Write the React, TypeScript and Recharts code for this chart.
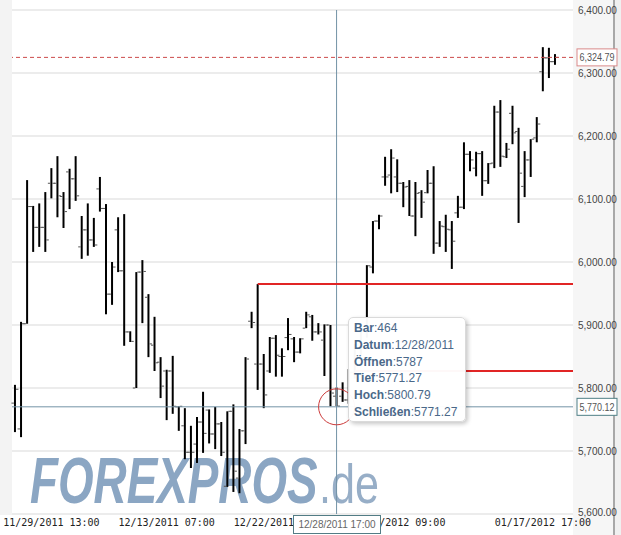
import React from 'react';
import { ComposedChart, Bar, XAxis, YAxis, CartesianGrid, ReferenceLine, ReferenceDot } from 'recharts';

// ---- data (one bar per 4h period, index = bar position) ----
const openPrices = [
  5776, 5735, 5902, 6088, 6055, 6055, 6125, 6125, 6104, 6143,
  6132, 6024, 6051, 6035, 6116, 6085, 5949, 6051, 5986, 5889,
  5800, 5984, 5944, 5868, 5841, 5827, 5827, 5770, 5740, 5698,
  5711, 5746, 5765, 5727, 5743, 5644, 5763, 5657, 5732, 5906,
  5838, 5838, 5827, 5879, 5850, 5880, 5878, 5857, 5895, 5913,
  5889, 5876, 5900, 5787, 5787, 5781, 5825, 5862, 5892, 5992,
  6065, 6135, 6138, 6135, 6125, 6120, 6073, 6110, 6110, 6125,
  6030, 6056, 6051, 6078, 6087, 6171, 6149, 6172, 6129, 6157,
  6238, 6167, 6236, 6207, 6120, 6162, 6197, 6302, 6324, 6318,
];
const highPrices = [
  5805, 5905, 6130, 6089, 6093, 6111, 6149, 6168, 6111, 6148,
  6168, 6073, 6093, 6070, 6135, 6092, 6000, 6071, 6076, 5890,
  5984, 6003, 5949, 5913, 5849, 5829, 5851, 5771, 5768, 5740,
  5754, 5794, 5766, 5770, 5746, 5763, 5774, 5735, 5849, 5921,
  5965, 5854, 5881, 5884, 5863, 5911, 5881, 5879, 5921, 5916,
  5903, 5901, 5900, 5800.79, 5809, 5830, 5870, 5895, 5995, 6065,
  6075, 6167, 6179, 6163, 6127, 6130, 6127, 6114, 6146, 6152,
  6065, 6075, 6065, 6105, 6190, 6176, 6175, 6176, 6157, 6248,
  6257, 6189, 6248, 6213, 6176, 6195, 6230, 6341, 6340, 6330,
];
const lowPrices = [
  5730, 5722, 5902, 6016, 6024, 6016, 6101, 6071, 6054, 6084,
  6097, 6005, 6010, 6024, 6080, 5917, 5932, 5984, 5867, 5873,
  5800, 5903, 5849, 5827, 5784, 5749, 5759, 5732, 5687, 5673,
  5681, 5697, 5712, 5703, 5692, 5643, 5635, 5633, 5711, 5895,
  5797, 5768, 5824, 5818, 5818, 5860, 5841, 5855, 5895, 5875,
  5885, 5819, 5771, 5771.27, 5778, 5775, 5815, 5850, 5880, 5982,
  6052, 6121, 6109, 6111, 6087, 6073, 6041, 6070, 6109, 6013,
  6024, 6016, 5989, 6070, 6084, 6144, 6136, 6105, 6124, 6149,
  6151, 6165, 6187, 6062, 6103, 6135, 6190, 6271, 6292, 6313,
];
const closePrices = [
  5798, 5902, 6088, 6055, 6055, 6035, 6125, 6105, 6080, 6132,
  6105, 6051, 6035, 6027, 6085, 5949, 5992, 5986, 5889, 5874,
  5984, 5985, 5870, 5840, 5803, 5827, 5771, 5771, 5698, 5698,
  5746, 5728, 5727, 5743, 5698, 5763, 5668, 5732, 5846, 5904,
  5838, 5789, 5879, 5852, 5850, 5885, 5857, 5878, 5916, 5889,
  5889, 5900, 5792, 5771.27, 5781, 5825, 5862, 5890, 5994, 6065,
  6073, 6135, 6165, 6125, 6119, 6073, 6109, 6095, 6125, 6030,
  6057, 6052, 6033, 6087, 6171, 6162, 6172, 6129, 6156, 6238,
  6168, 6179, 6205, 6141, 6162, 6195, 6219, 6324, 6318, 6324.79,
];

const xTickBars = [6, 25, 44, 63, 87];
const xTickLabels = ['11/29/2011 13:00', '12/13/2011 07:00', '12/22/2011 01:00', '01/05/2012 09:00', '01/17/2012 17:00'];
const yTickValues = [5600, 5700, 5800, 5900, 6000, 6100, 6200, 6300, 6400];

const lastPrice = 6324.79;
const cursorPrice = 5770.12;
const cursorBar = 53;
const cursorDateLabel = '12/28/2011 17:00';
const levelValues = [5965, 5827];
const levelStartBars = [40, 56];

const tooltipRows: [string, string][] = [
  ['Bar', '464'],
  ['Datum', '12/28/2011'],
  ['Öffnen', '5787'],
  ['Tief', '5771.27'],
  ['Hoch', '5800.79'],
  ['Schließen', '5771.27'],
];

const data = openPrices.map((o, i) => ({
  i,
  o,
  h: highPrices[i],
  l: lowPrices[i],
  c: closePrices[i],
  range: [lowPrices[i], highPrices[i]],
}));

const X_DOMAIN: [number, number] = [-0.4944, 91.966];

const fmt = (v: number) =>
  v.toLocaleString('en-US', { minimumFractionDigits: 2, maximumFractionDigits: 2 });

const OhlcShape = (props: any) => {
  const { x, y, width, height, payload } = props;
  if (x == null || y == null || !payload) return null;
  const cx = x + width / 2;
  const top = Math.min(y, y + height);
  const bot = Math.max(y, y + height);
  const span = payload.h - payload.l || 1;
  const yo = top + ((payload.h - payload.o) / span) * (bot - top);
  const yc = top + ((payload.h - payload.c) / span) * (bot - top);
  return (
    <g>
      <line x1={cx} x2={cx} y1={top} y2={bot} stroke="#000" strokeWidth={2} />
      <line x1={cx - 3.5} x2={cx - 1} y1={yo} y2={yo} stroke="#555" strokeWidth={1} />
      <line x1={cx + 1} x2={cx + 3.5} y1={yc} y2={yc} stroke="#555" strokeWidth={1} />
    </g>
  );
};

const YTick = (props: any) => {
  const { x, y, payload } = props;
  const lift = payload.value === yTickValues[0] ? -2 : 0;
  return (
    <text x={x + 5} y={y + lift} dy={3.5} fontSize={10} fill="#444" fontFamily="'Liberation Sans', Arial, sans-serif">
      {fmt(payload.value)}
    </text>
  );
};

const XTick = (props: any) => {
  const { x, y, payload } = props;
  const idx = xTickBars.indexOf(payload.value);
  return (
    <text x={x} y={y + 12} textAnchor="middle" fontSize={10} fill="#222" fontFamily="'DejaVu Sans Mono', monospace">
      {idx >= 0 ? xTickLabels[idx] : ''}
    </text>
  );
};

const PriceTag = ({ viewBox, text, border }: any) => {
  if (!viewBox) return null;
  const x = viewBox.x + viewBox.width + 4;
  const y = viewBox.y;
  return (
    <g>
      <rect x={x} y={y - 8.5} width={40} height={17} fill="#fff" stroke={border} strokeWidth={1} />
      <text x={x + 20} y={y + 4} textAnchor="middle" fontSize={11} fill="#555" fontFamily="'Liberation Sans', Arial, sans-serif" textLength={35} lengthAdjust="spacingAndGlyphs">
        {text}
      </text>
    </g>
  );
};

export default function App() {
  return (
    <div style={{ position: 'absolute', left: 0, top: 0, width: 621, height: 535, background: '#fff', overflow: 'hidden', fontFamily: "'Liberation Sans', Arial, sans-serif" }}>
      <svg width={621} height={535} style={{ position: 'absolute', left: 0, top: 0 }}>
        <rect x={0} y={0} width={12} height={515} fill="#f3f3f3" />
        <rect x={573} y={0} width={41} height={535} fill="#f6f6f6" />
        <rect x={613} y={0} width={2} height={535} fill="#a8a8a8" />
        <rect x={615} y={0} width={6} height={535} fill="#f0f0f0" />
        <text transform="translate(30,503) scale(0.716,1)" fontSize={64} fontWeight="bold" fontStyle="italic" fill="#8ba6c3" fontFamily="'Liberation Sans', Arial, sans-serif">
          FOREXPROS
        </text>
        <text transform="translate(319,503) scale(0.77,1)" fontSize={56} fill="#97aec7" fontFamily="'Liberation Sans', Arial, sans-serif">
          .de
        </text>
      </svg>
      <div style={{ position: 'absolute', left: 0, top: 0 }}>
        <ComposedChart width={621} height={535} data={data} margin={{ top: 10, right: 0, bottom: 0, left: 12 }}>
          <CartesianGrid vertical={false} stroke="#d9d9d9" />
          <XAxis
            dataKey="i"
            type="number"
            domain={X_DOMAIN}
            ticks={xTickBars}
            interval={0}
            height={21}
            axisLine={false}
            tickLine={false}
            tickSize={0}
            tickMargin={0}
            tick={<XTick />}
          />
          <YAxis
            orientation="right"
            width={48}
            domain={[5600, 6400]}
            ticks={yTickValues}
            axisLine={false}
            tickLine={false}
            tickSize={0}
            tickMargin={0}
            tick={<YTick />}
          />
          <ReferenceLine y={cursorPrice} stroke="#7393a6" strokeWidth={1} label={(p: any) => <PriceTag viewBox={p.viewBox} text={fmt(cursorPrice)} border="#4f7f86" />} />
          <ReferenceLine y={lastPrice} stroke="#cc4a4a" strokeDasharray="4 3" strokeWidth={1} label={(p: any) => <PriceTag viewBox={p.viewBox} text={fmt(lastPrice)} border="#d98a8a" />} />
          <ReferenceLine x={cursorBar} stroke="#7393a6" strokeWidth={1} />
          <Bar dataKey="range" barSize={2} isAnimationActive={false} shape={<OhlcShape />} />
          {levelValues.map((v, k) => (
            <ReferenceLine
              key={k}
              segment={[{ x: levelStartBars[k], y: v }, { x: X_DOMAIN[1], y: v }]}
              stroke="#e12525"
              strokeWidth={2}
            />
          ))}
          <ReferenceDot x={cursorBar} y={cursorPrice} r={18} fill="none" stroke="#cc3a3a" strokeWidth={1} />
        </ComposedChart>
      </div>
      <div style={{ position: 'absolute', left: 348, top: 317, width: 118, height: 105, background: 'rgba(255,255,255,0.97)', border: '1px solid #dadada', borderRadius: 5, boxShadow: '2px 2px 4px rgba(0,0,0,0.22)', padding: '2px 0 0 5px', boxSizing: 'border-box', color: '#4a6889', fontSize: 12, lineHeight: '16.8px', fontFamily: "'Liberation Sans', Arial, sans-serif", whiteSpace: 'nowrap' }}>
        {tooltipRows.map(([k, v]) => (
          <div key={k}>
            <b>{k}</b>:{v}
          </div>
        ))}
      </div>
      <div style={{ position: 'absolute', left: 293, top: 515, width: 88, height: 19, boxSizing: 'border-box', background: '#fff', border: '1px solid #527c85', color: '#666', fontSize: 10, lineHeight: '17px', textAlign: 'center', fontFamily: "'Liberation Sans', Arial, sans-serif" }}>
        {cursorDateLabel}
      </div>
    </div>
  );
}
